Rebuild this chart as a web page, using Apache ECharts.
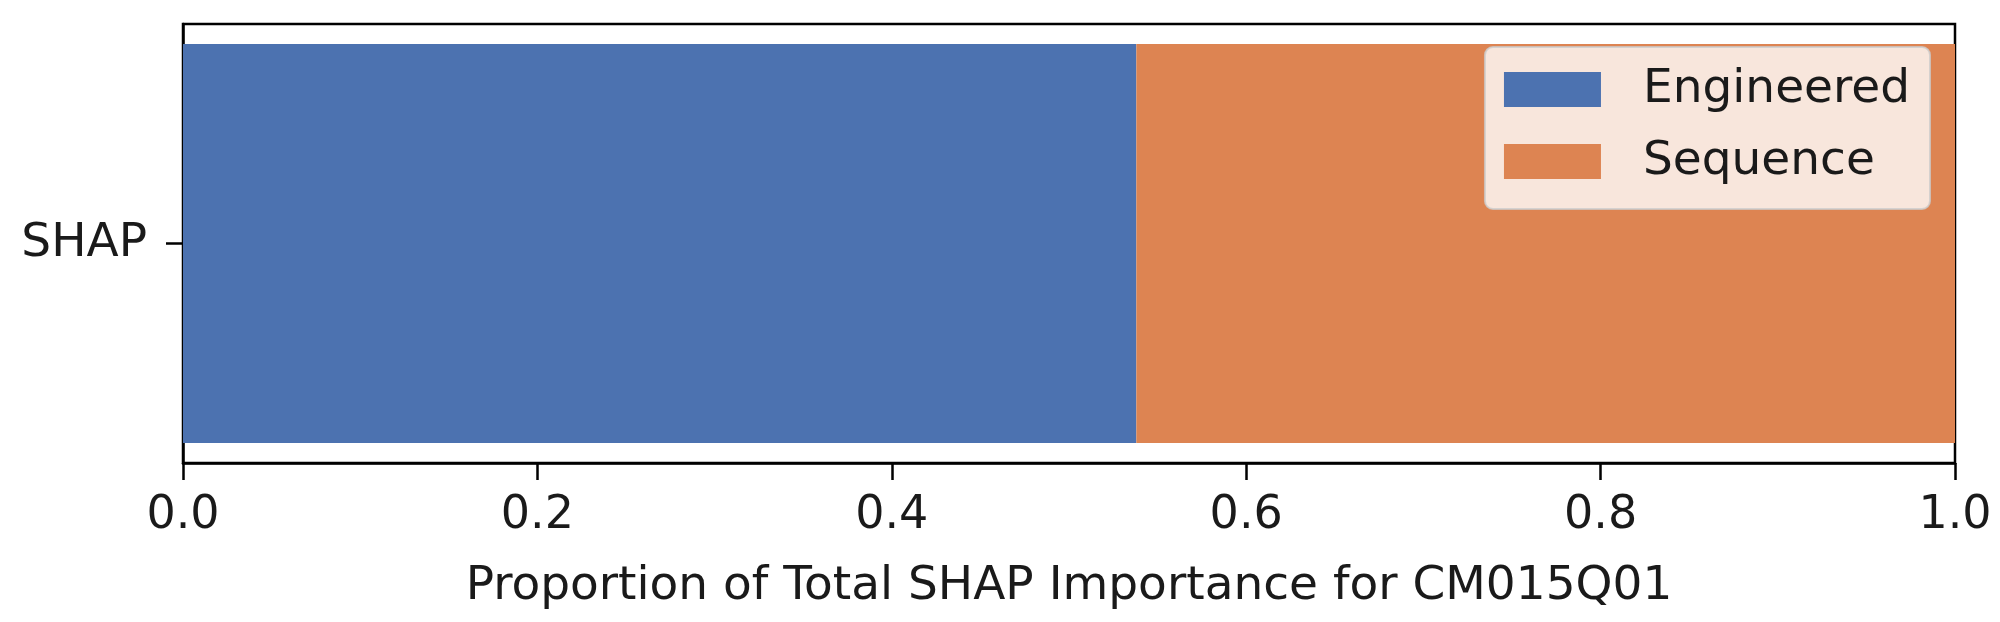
<!DOCTYPE html>
<html>
    <head>
        <meta charset="utf-8">
        <script src="https://cdn.jsdelivr.net/npm/echarts@6/dist/echarts.min.js"></script>
        <style type="text/css">
            #main {height:622px;width:2000px;position:absolute;}
            body {margin:0px;padding:0px;overflow:hidden;background:#fff;}
        </style>
    </head>
    <body>
        <div id="main"></div>
        <script type="text/javascript">
            // data
            let categories = ['SHAP'];
            let engineered = [0.538];
            let sequence = [0.462];
            let seriesNames = ['Engineered', 'Sequence'];
            let colors = ['#4c72b0', '#dd8452'];

            let font = 'DejaVu Sans';
            let myChart = echarts.init(document.getElementById('main'));
            let option = {
                animation: false,
                backgroundColor: '#ffffff',
                grid: {
                    left: 183, right: 45, top: 24, bottom: 159,
                    show: true,
                    borderColor: '#000',
                    borderWidth: 2.5
                },
                legend: {
                    data: seriesNames,
                    orient: 'vertical',
                    right: 70,
                    top: 47,
                    itemWidth: 97,
                    itemHeight: 35,
                    itemGap: 25,
                    padding: [19, 20, 24, 19],
                    backgroundColor: 'rgba(255,255,255,0.8)',
                    borderColor: 'rgba(204,204,204,0.8)',
                    borderWidth: 2,
                    borderRadius: 8,
                    icon: 'rect',
                    textStyle: {
                        fontFamily: font,
                        fontSize: 47,
                        color: '#1a1a1a',
                        padding: [0, 0, 0, 37]
                    }
                },
                xAxis: {
                    type: 'value',
                    min: 0,
                    max: 1,
                    interval: 0.2,
                    name: 'Proportion of Total SHAP Importance for CM015Q01',
                    nameLocation: 'middle',
                    nameGap: 100,
                    nameTextStyle: {fontFamily: font, fontSize: 47, color: '#1a1a1a'},
                    axisLine: {show: true, lineStyle: {color: '#000', width: 2.5}},
                    axisTick: {show: true, length: 17, lineStyle: {color: '#000', width: 2.5}},
                    axisLabel: {
                        margin: 30,
                        fontFamily: font,
                        fontSize: 46,
                        color: '#1a1a1a',
                        formatter: function (v) { return v.toFixed(1); }
                    },
                    splitLine: {show: false}
                },
                yAxis: {
                    type: 'category',
                    data: categories,
                    axisLine: {show: true, lineStyle: {color: '#000', width: 2.5}},
                    axisTick: {show: true, alignWithLabel: true, length: 17, lineStyle: {color: '#000', width: 2.5}},
                    axisLabel: {margin: 36, fontFamily: font, fontSize: 47, color: '#1a1a1a'}
                },
                series: [
                    {
                        name: seriesNames[0],
                        type: 'bar',
                        stack: 'total',
                        barWidth: '90.9%',
                        itemStyle: {color: colors[0]},
                        data: engineered
                    },
                    {
                        name: seriesNames[1],
                        type: 'bar',
                        stack: 'total',
                        barWidth: '90.9%',
                        itemStyle: {color: colors[1]},
                        data: sequence
                    }
                ]
            };
            myChart.setOption(option);
        </script>
    </body>
</html>
